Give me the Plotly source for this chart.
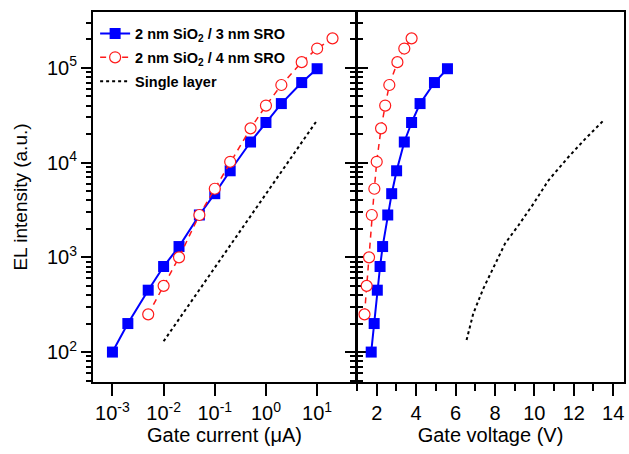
import plotly.graph_objects as go

# ---- data ----
cur_3nm = [1e-3, 2e-3, 5e-3, 1e-2, 2e-2, 5e-2, 0.1, 0.2, 0.5, 1, 2, 5, 10]
el_3nm = [100, 200, 450, 800, 1300, 2800, 4700, 8200, 16500, 26500, 42000, 70000, 98000]
volt_3nm = [1.72, 1.87, 2.03, 2.17, 2.30, 2.56, 2.76, 3.01, 3.40, 3.77, 4.20, 4.93, 5.59]

cur_4nm = [5e-3, 1e-2, 2e-2, 5e-2, 0.1, 0.2, 0.5, 1, 2, 5, 10, 20]
el_4nm = [250, 500, 1000, 2800, 5300, 10200, 23000, 40000, 66000, 115000, 160000, 205000]
volt_4nm = [1.38, 1.49, 1.61, 1.75, 1.88, 2.0, 2.22, 2.43, 2.64, 3.05, 3.40, 3.77]

cur_single = [0.01, 0.1, 1, 10]
el_single_cur = [130, 780, 4600, 28000]
volt_single = [6.56, 6.90, 7.41, 7.92, 8.51, 9.19, 9.95, 10.71, 11.72, 12.57, 13.50]
el_single_volt = [134, 255, 468, 790, 1395, 2170, 3670, 6470, 11400, 17700, 27700]

y_tickvals = [1e2, 1e3, 1e4, 1e5]
y_ticktext = ["10<sup>2</sup>", "10<sup>3</sup>", "10<sup>4</sup>", "10<sup>5</sup>"]
x_tickvals = [1e-3, 1e-2, 1e-1, 1e0, 1e1]
x_ticktext = ["10<sup>-3</sup>", "10<sup>-2</sup>", "10<sup>-1</sup>", "10<sup>0</sup>", "10<sup>1</sup>"]

names = ["<b>2 nm SiO<sub>2</sub> / 3 nm SRO</b>",
         "<b>2 nm SiO<sub>2</sub> / 4 nm SRO</b>",
         "<b>Single layer</b>"]

BLUE = "#0000FF"
RED = "#FF1A1A"
FONT = "Liberation Sans, Arial, sans-serif"

fig = go.Figure()

def add_set(xs3, xs4, xss, ys_s, xa, ya, legend):
    fig.add_trace(go.Scatter(x=xs3, y=el_3nm, mode="lines+markers", name=names[0],
                             line=dict(color=BLUE, width=2),
                             marker=dict(symbol="square", size=11, color=BLUE),
                             xaxis=xa, yaxis=ya, showlegend=legend, legendgroup="a"))
    fig.add_trace(go.Scatter(x=xs4, y=el_4nm, mode="lines+markers", name=names[1],
                             line=dict(color=RED, width=1.5, dash="6px,5px"),
                             marker=dict(symbol="circle", size=11, color="white",
                                         line=dict(width=1.2, color=RED)),
                             xaxis=xa, yaxis=ya, showlegend=legend, legendgroup="b"))
    fig.add_trace(go.Scatter(x=xss, y=ys_s, mode="lines", name=names[2],
                             line=dict(color="black", width=2, dash="3px,3px"),
                             xaxis=xa, yaxis=ya, showlegend=legend, legendgroup="c"))

add_set(cur_3nm, cur_4nm, cur_single, el_single_cur, "x", "y", True)
add_set(volt_3nm, volt_4nm, volt_single, el_single_volt, "x2", "y2", False)

tickfont = dict(family=FONT, size=20, color="black")
common = dict(showline=True, linecolor="black", linewidth=2, showgrid=False,
              zeroline=False, tickcolor="black", tickwidth=2, tickfont=tickfont)

yrange = [1.684, 5.59]
fig.update_layout(
    width=629, height=454,
    margin=dict(l=93, r=3, t=12, b=72),
    paper_bgcolor="white", plot_bgcolor="white",
    font=dict(family=FONT, color="black"),
    xaxis=dict(type="log", domain=[0, 0.4953], range=[-3.38, 1.76],
               tickvals=x_tickvals, ticktext=x_ticktext, ticks="outside", ticklen=12,
               mirror=True, anchor="y",
               title=dict(text="Gate current (\u03bcA)", font=dict(family=FONT, size=20), standoff=4),
               **common),
    yaxis=dict(type="log", range=yrange, tickvals=y_tickvals, ticktext=y_ticktext,
               ticks="outside", ticklen=10, mirror="ticks", anchor="x",
               minor=dict(dtick="D1", ticks="outside", ticklen=5, tickwidth=1.5,
                          tickcolor="black", showgrid=False),
               title=dict(text="EL intensity (a.u.)", font=dict(family=FONT, size=19), standoff=14),
               **common),
    xaxis2=dict(domain=[0.4972, 1], range=[1, 14.55], tick0=0, dtick=2,
                ticks="outside", ticklen=12, mirror=True, anchor="y2",
                minor=dict(dtick=1, ticks="outside", ticklen=7, tickwidth=2,
                           tickcolor="black", showgrid=False),
                title=dict(text="Gate voltage (V)", font=dict(family=FONT, size=20), standoff=4),
                **common),
    yaxis2=dict(type="log", range=yrange, tickvals=y_tickvals, showticklabels=False,
                ticks="outside", ticklen=10, mirror=True, anchor="x2",
                minor=dict(dtick="D1", ticks="outside", ticklen=5, tickwidth=1.5,
                           tickcolor="black", showgrid=False),
                **common),
    legend=dict(x=0.004, y=0.985, xanchor="left", yanchor="top",
                bgcolor="rgba(0,0,0,0)", tracegroupgap=2,
                font=dict(family=FONT, size=14.5, color="black")),
)

fig.write_html("out.html")
